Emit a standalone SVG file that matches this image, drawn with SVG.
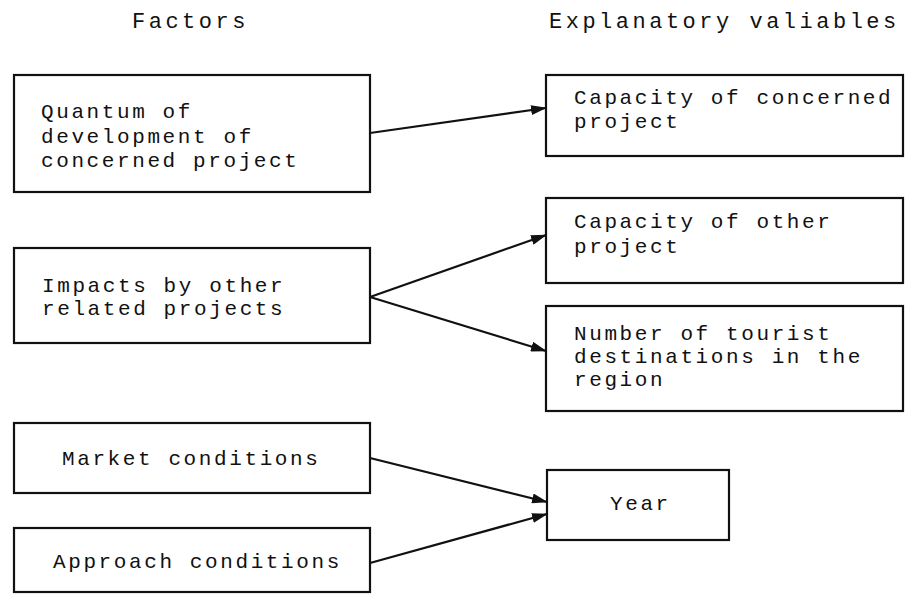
<svg xmlns="http://www.w3.org/2000/svg" width="912" height="599" viewBox="0 0 912 599">
<style>
.box{fill:#fff;stroke:#111;stroke-width:2.2}
.t{font-family:"Liberation Mono","Courier New",monospace;font-size:21px;letter-spacing:2.6px;fill:#111}
.h{font-family:"Liberation Mono","Courier New",monospace;font-size:22px;letter-spacing:3.5px;fill:#111}
.c{fill:none;stroke:#111;stroke-width:2.2}
</style>
<defs>
<marker id="ah" viewBox="0 0 16 10" refX="15" refY="5" markerWidth="16" markerHeight="10" markerUnits="userSpaceOnUse" orient="auto">
<path d="M0,0 L16,5 L0,10 Z" fill="#111"/>
</marker>
</defs>
<rect width="912" height="599" fill="#fff"/>
<text class="h" x="132" y="28">Factors</text>
<text class="h" x="549" y="28">Explanatory valiables</text>
<g id="n1"><rect class="box" x="14" y="75" width="356" height="117"/>
<text class="t" x="41" y="118">Quantum of</text>
<text class="t" x="41" y="143">development of</text>
<text class="t" x="41" y="167">concerned project</text></g>
<g id="n2"><rect class="box" x="546" y="75" width="357" height="81"/>
<text class="t" x="574" y="104">Capacity of concerned</text>
<text class="t" x="574" y="128">project</text></g>
<g id="n3"><rect class="box" x="14" y="248" width="356" height="95"/>
<text class="t" x="42" y="292">Impacts by other</text>
<text class="t" x="42" y="315">related projects</text></g>
<g id="n4"><rect class="box" x="546" y="198" width="357" height="85"/>
<text class="t" x="574" y="228">Capacity of other</text>
<text class="t" x="574" y="253">project</text></g>
<g id="n5"><rect class="box" x="546" y="306" width="357" height="105"/>
<text class="t" x="574" y="340">Number of tourist</text>
<text class="t" x="574" y="363">destinations in the</text>
<text class="t" x="574" y="386">region</text></g>
<g id="n6"><rect class="box" x="14" y="423" width="356" height="70"/>
<text class="t" x="62" y="465">Market conditions</text></g>
<g id="n7"><rect class="box" x="14" y="528" width="356" height="64"/>
<text class="t" x="53" y="568">Approach conditions</text></g>
<g id="n8"><rect class="box" x="547" y="470" width="182" height="70"/>
<text class="t" x="610" y="510">Year</text></g>
<g id="connectors">
<line class="c" x1="370" y1="133" x2="546" y2="108" marker-end="url(#ah)"/>
<line class="c" x1="370" y1="297" x2="546" y2="235" marker-end="url(#ah)"/>
<line class="c" x1="370" y1="297" x2="546" y2="351" marker-end="url(#ah)"/>
<line class="c" x1="370" y1="458" x2="547" y2="502" marker-end="url(#ah)"/>
<line class="c" x1="370" y1="563" x2="547" y2="514" marker-end="url(#ah)"/>
</g>
</svg>
